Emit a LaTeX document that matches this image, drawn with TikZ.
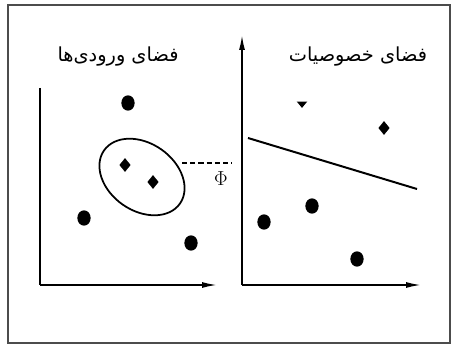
\documentclass[tikz,border=0pt]{standalone}
\usepackage{fontspec}
\usepackage{tikz}
\usetikzlibrary{positioning,shapes.geometric,arrows.meta}
\newfontfamily\arabicfont[Script=Arabic]{DejaVu Sans}
\TeXXeTstate=1
\tikzset{
  axis/.style={line width=1.4pt, -{Latex[length=4.5mm,width=1.8mm]}},
  dot/.style={ellipse, fill=black, inner sep=0pt, minimum width=0.4cm, minimum height=0.46cm},
  dia/.style={diamond, fill=black, inner sep=0pt, minimum width=0.34cm, minimum height=0.42cm},
  spacelabel/.style={font=\arabicfont\fontsize{16.5}{19}\selectfont},
}

\begin{document}
\begin{tikzpicture}[x=0.03cm, y=-0.03cm,
  mapline/.style={line width=1.7pt, dash pattern=on 4.5pt off 2.5pt},
  cut/.style={line width=1.7pt}]

\useasboundingbox (0,0) rectangle (451,345);
\draw[gray!60!black, line width=1.1pt] (8,5) rectangle (450,343);

% ---- input space (left) ----
\coordinate (lo) at (40,285);
\coordinate (ltop) at (40,88);
\coordinate (lright) at (217,285);
\draw[line width=1.4pt] (ltop) -- (lo);
\draw[axis] (lo) -- (lright);
\node[spacelabel] (lin) at (118,57) {\beginR فضای ورودی‌ها\endR};

\node[dot] (a1) at (128,103) {};
\node[dot] (a2) at (84,218) {};
\node[dot] (a3) at (191,243) {};
\node[dia] (d1) at (125,165) {};
\node[dia] (d2) at (153,182) {};
\node[draw, ellipse, line width=1.5pt, inner sep=0pt, minimum width=2.78cm,
      minimum height=2.02cm, rotate=-35] (cls) at (142,177) {};

% ---- mapping ----
\coordinate (mapstart) at (182,163);
\coordinate (mapend) at (232,163);
\draw[mapline] (mapstart) -- (mapend);
\node[font=\LARGE, inner sep=0pt] (phi) at (221,179) {$\Phi$};

% ---- feature space (right) ----
\coordinate (ro) at (242,285);
\coordinate (rtop) at (242,35);
\coordinate (rright) at (421,285);
\draw[axis] (ro) -- (rtop);
\draw[axis] (ro) -- (rright);
\node[spacelabel] (lfeat) at (358,57) {\beginR فضای خصوصیات\endR};

\node[isosceles triangle, shape border rotate=-90, isosceles triangle apex angle=80,
      fill=black, inner sep=0pt, minimum height=0.19cm] (t1) at (302,104) {};
\node[dia] (d3) at (384,128) {};
\node[dot] (b1) at (312,206) {};
\node[dot] (b2) at (264,222) {};
\node[dot] (b3) at (357,259) {};
\coordinate (sepl) at (248,138);
\coordinate (sepr) at (417,189);
\draw[cut] (sepl) -- (sepr);

\end{tikzpicture}
\end{document}
